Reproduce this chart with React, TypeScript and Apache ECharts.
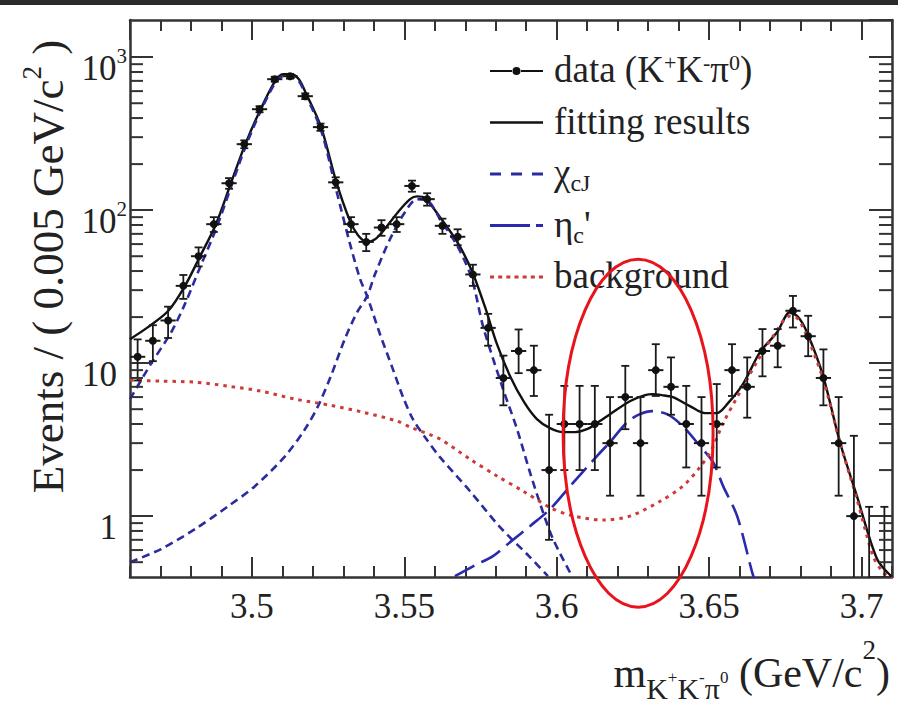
import React, { useEffect, useRef } from 'react';
import * as echarts from 'echarts';

const X_MIN = 3.46;
const X_MAX = 3.71;
const Y_MIN = 0.4;
const Y_MAX = 1750;
const HALF_BIN = 0.0025;
const FONT = 'Liberation Serif';

// ---- data points (bin centres, counts, error bounds) ----
const binCenters = [
  3.4625, 3.4675, 3.4725, 3.4775, 3.4825, 3.4875, 3.4925, 3.4975, 3.5025, 3.5075,
  3.5125, 3.5175, 3.5225, 3.5275, 3.5325, 3.5375, 3.5425, 3.5475, 3.5525, 3.5575,
  3.5625, 3.5675, 3.5725, 3.5775, 3.5825, 3.5875, 3.5925, 3.5975, 3.6025, 3.6075,
  3.6125, 3.6175, 3.6225, 3.6275, 3.6325, 3.6375, 3.6425, 3.6475, 3.6525, 3.6575,
  3.6625, 3.6675, 3.6725, 3.6775, 3.6825, 3.6875, 3.6925, 3.6975, 3.7025, 3.7075,
];
const counts = [
  11, 14, 19, 32, 50, 81, 150, 270, 457, 718,
  751, 556, 349, 152, 81, 62, 77, 81, 144, 118,
  79, 67, 38, 17, 8, 12, 9, 2, 4, 4,
  4, 3, 6, 3, 9, 7, 4, 3, 4, 9,
  7, 12, 13, 22, 15, 8, 3, 1, 0, 0,
];
const errLow = [
  7.7, 10.3, 14.6, 26.3, 42.9, 72, 138, 254, 436, 691,
  724, 532, 330, 140, 72, 54, 68, 72, 132, 107,
  70, 59, 32, 13, 5.3, 8.6, 6.1, 0.7, 2.0, 2.0,
  2.0, 1.36, 3.7, 1.36, 6.1, 4.6, 2.08, 1.36, 2.08, 6.1,
  4.4, 8.2, 9.4, 17.1, 11.1, 5.3, 1.36, 0.17, 0, 0,
];
const errHigh = [
  14.3, 17.7, 23.4, 37.7, 57.1, 90, 162, 286, 478, 745,
  778, 580, 368, 164, 90, 70, 86, 90, 156, 129,
  88, 75, 44, 21, 11.2, 16.6, 13, 4.6, 7.1, 7.1,
  7.1, 6.0, 9.6, 6.0, 13.3, 10.9, 7.1, 6.0, 7.3, 13.3,
  10.9, 16.7, 16.7, 27.5, 20.4, 12.3, 6.0, 3.35, 1.15, 1.15,
];

// ---- fit curves ----
const fitX = [
  3.46, 3.4659, 3.4725, 3.478, 3.483, 3.4882, 3.4931, 3.4977, 3.5027, 3.5076,
  3.5102, 3.5128, 3.5154, 3.5177, 3.5227, 3.5276, 3.5322, 3.5348, 3.5378, 3.5404,
  3.543, 3.5479, 3.5519, 3.5542, 3.5568, 3.5617, 3.5676, 3.5722, 3.5765, 3.5804,
  3.5847, 3.5893, 3.5935, 3.5978, 3.6021, 3.606, 3.6099, 3.6142, 3.6175, 3.624,
  3.629, 3.6316, 3.6345, 3.6381, 3.6437, 3.6486, 3.6525, 3.6562, 3.6611, 3.6667,
  3.6723, 3.6765, 3.6792, 3.6821, 3.6874, 3.6929, 3.6985, 3.7051, 3.71,
];
const fitY = [
  14.35, 17.2, 21.9, 31.9, 50.0, 81.0, 150, 266, 450, 697,
  774, 774, 718, 582, 349, 155, 84.8, 68.6, 61.8, 64.6,
  72.9, 97.0, 118, 123, 120, 90.0, 60.8, 39.9, 23.2, 13.3,
  8.22, 5.56, 4.31, 3.76, 3.54, 3.54, 3.7, 4.18, 4.64, 5.64,
  6.18, 6.27, 6.18, 5.99, 5.24, 4.71, 4.71, 5.48, 7.29, 11.8,
  15.9, 21.5, 20.0, 15.9, 8.22, 3.05, 1.35, 0.524, 0.4,
];
const chic1X = [
  3.46, 3.4666, 3.4735, 3.478, 3.483, 3.4882, 3.4931, 3.4977, 3.5027, 3.5076,
  3.5102, 3.5128, 3.5154, 3.5177, 3.5227, 3.5276, 3.5322, 3.5355, 3.5378, 3.542,
  3.546, 3.5496, 3.5528, 3.5568, 3.5617, 3.5715, 3.5814, 3.5912, 3.5971,
];
const chic1Y = [
  5.82, 9.7, 15.9, 24.3, 42.4, 75.1, 141, 254, 437, 676,
  751, 751, 697, 564, 333, 137, 60, 35.4, 27.4, 15.5,
  9.42, 5.99, 4.31, 3.28, 2.43, 1.46, 0.847, 0.54, 0.405,
];
const chic2X = [
  3.46, 3.4702, 3.4813, 3.4922, 3.501, 3.5109, 3.5174, 3.5217, 3.5259, 3.5305,
  3.5345, 3.5378, 3.5404, 3.5453, 3.5502, 3.5542, 3.5578, 3.5617, 3.5676, 3.5722,
  3.5758, 3.5824, 3.587, 3.5912, 3.5955, 3.5988, 3.605,
];
const chic2Y = [
  0.5, 0.609, 0.822, 1.16, 1.57, 2.47, 3.7, 5.24, 8.22, 14.4,
  21.5, 27.4, 38.2, 64.6, 97.0, 118, 115, 87.4, 57.3, 35.4,
  17.5, 6.76, 3.7, 1.94, 1.06, 0.707, 0.405,
];
const etaX = [
  3.5666, 3.5732, 3.5791, 3.5847, 3.5912, 3.5978, 3.6044, 3.6132, 3.6175, 3.6231,
  3.6273, 3.6313, 3.6362, 3.6414, 3.647, 3.6513, 3.6546, 3.6592, 3.6641, 3.665,
];
const etaY = [
  0.405, 0.478, 0.548, 0.676, 0.86, 1.11, 1.57, 2.47, 3.05, 4.11,
  4.64, 4.86, 4.64, 3.87, 2.87, 2.25, 1.57, 1.0, 0.431, 0.38,
];
const bgX = [
  3.46, 3.4702, 3.4813, 3.4922, 3.503, 3.5141, 3.5256, 3.5364, 3.5476, 3.5519,
  3.5617, 3.5715, 3.5804, 3.5889, 3.5978, 3.6044, 3.6152, 3.624, 3.6339, 3.6414,
  3.647, 3.6509, 3.6546, 3.6601, 3.6657, 3.671, 3.6765, 3.6792, 3.6821, 3.6874,
  3.6929, 3.6985, 3.7038, 3.707, 3.71,
];
const bgY = [
  7.74, 7.63, 7.51, 7.07, 6.56, 5.82, 5.31, 4.78, 4.18, 3.82,
  3.19, 2.36, 1.83, 1.46, 1.14, 1.015, 0.942, 1.0, 1.25, 1.57,
  2.09, 2.74, 4.05, 6.46, 10.2, 15.0, 20.3, 19.4, 15.0, 7.86,
  3.05, 1.29, 0.548, 0.431, 0.39,
];

// ---- axes ----
const xTickLabels = [3.5, 3.55, 3.6, 3.65, 3.7];
const yTickValues = [1, 10, 100, 1000];
const yTickBase = ['1', '10', '10', '10'];
const yTickExp = ['', '', '2', '3'];
const yMinorTicks = [
  0.5, 0.6, 0.7, 0.8, 0.9, 2, 3, 4, 5, 6, 7, 8, 9,
  20, 30, 40, 50, 60, 70, 80, 90, 200, 300, 400, 500, 600, 700, 800, 900,
];
// annotation ellipse: [x left, y bottom, x right, y top]
const ellipseBox = [3.6021, 0.254, 3.6513, 47.8];

const BLUE = '#2b2ba0';
const BLUE2 = '#2a2aac';
const RED = '#cc3a3a';
const AXIS = '#333333';
const TEXT = '#222222';

const zip = (xs: number[], ys: number[]) => xs.map((x, i) => [x, ys[i]]);

const legendLabels: Record<string, string> = {
  data: '{b|data (K}{u|+}{b|K}{u|-}{b|π}{u|0}{b|)}',
  'fitting results': '{b|fitting results}',
  'χcJ': '{b|χ}{d|cJ}',
  "ηc'": "{b|η}{d|c}{b|'}",
  background: '{b|background}',
};

function App() {
  const ref = useRef<HTMLDivElement | null>(null);

  useEffect(() => {
    if (!ref.current) return;
    const chart = echarts.init(ref.current, null, { renderer: 'svg' });

    const renderData = (params: any, api: any) => {
      const x = api.value(0) as number;
      const y = api.value(1) as number;
      const lo = api.value(2) as number;
      const hi = api.value(3) as number;
      const st = { stroke: '#1a1a1a', lineWidth: 1.8 };
      const children: any[] = [];
      const pTop = api.coord([x, Math.min(hi, Y_MAX)]);
      const pBot = api.coord([x, Math.max(lo, Y_MIN)]);
      children.push({ type: 'line', shape: { x1: pTop[0], y1: pTop[1], x2: pBot[0], y2: pBot[1] }, style: st });
      children.push({ type: 'line', shape: { x1: pTop[0] - 4, y1: pTop[1], x2: pTop[0] + 4, y2: pTop[1] }, style: st });
      if (lo > Y_MIN) {
        children.push({ type: 'line', shape: { x1: pBot[0] - 4, y1: pBot[1], x2: pBot[0] + 4, y2: pBot[1] }, style: st });
      }
      if (y > 0) {
        const pL = api.coord([x - HALF_BIN, y]);
        const pR = api.coord([x + HALF_BIN, y]);
        const pC = api.coord([x, y]);
        children.push({ type: 'line', shape: { x1: pL[0], y1: pL[1], x2: pR[0], y2: pR[1] }, style: { stroke: '#1a1a1a', lineWidth: 2 } });
        children.push({ type: 'circle', shape: { cx: pC[0], cy: pC[1], r: 4 }, style: { fill: '#111' } });
      }
      return { type: 'group', children };
    };

    const renderMinor = (params: any, api: any) => {
      const v = api.value(1) as number;
      const pL = api.coord([X_MIN, v]);
      const pR = api.coord([X_MAX, v]);
      const st = { stroke: AXIS, lineWidth: 2 };
      return {
        type: 'group',
        children: [
          { type: 'line', shape: { x1: pL[0], y1: pL[1], x2: pL[0] + 13, y2: pL[1] }, style: st },
          { type: 'line', shape: { x1: pR[0] - 13, y1: pR[1], x2: pR[0], y2: pR[1] }, style: st },
        ],
      };
    };

    const renderEllipse = (params: any, api: any) => {
      const p1 = api.coord([api.value(0), api.value(3)]);
      const p2 = api.coord([api.value(2), api.value(1)]);
      return {
        type: 'ellipse',
        shape: { cx: (p1[0] + p2[0]) / 2, cy: (p1[1] + p2[1]) / 2, rx: (p2[0] - p1[0]) / 2, ry: (p2[1] - p1[1]) / 2 },
        style: { fill: 'none', stroke: '#e8141b', lineWidth: 3 },
      };
    };

    const xMajor = (pos: 'top' | 'bottom', labels: boolean) => ({
      type: 'value',
      position: pos,
      min: X_MIN,
      max: X_MAX,
      splitNumber: 5,
      axisLine: { show: true, onZero: false, lineStyle: { color: AXIS, width: 2.5 } },
      axisTick: { show: true, inside: true, length: 20, lineStyle: { color: AXIS, width: 2 } },
      splitLine: { show: false },
      axisLabel: {
        show: labels,
        margin: 12,
        showMinLabel: false,
        showMaxLabel: false,
        fontFamily: FONT,
        fontSize: 35,
        color: TEXT,
        formatter: (v: number) => {
          const r = Math.round(v * 100) / 100;
          return xTickLabels.indexOf(r) >= 0 ? String(r) : '';
        },
      },
    });
    const xMinor = (pos: 'top' | 'bottom') => ({
      type: 'value',
      position: pos,
      min: X_MIN,
      max: X_MAX,
      interval: 0.01,
      axisLine: { show: false, onZero: false },
      axisTick: { show: true, inside: true, length: 11, lineStyle: { color: AXIS, width: 2 } },
      splitLine: { show: false },
      axisLabel: { show: false },
    });

    const yLabelRich = {
      b: { fontFamily: FONT, fontSize: 35, lineHeight: 34, verticalAlign: 'top', padding: [6, 0, 0, 0], color: TEXT },
      s: { fontFamily: FONT, fontSize: 21, lineHeight: 20, verticalAlign: 'top', color: TEXT },
      sp: { width: 10, fontSize: 20, lineHeight: 20, verticalAlign: 'top' },
    };

    const legendData = [
      { name: 'data', icon: 'path://M0,7H22V9H0Z M31,7H53V9H31Z M22.5,8A4,4,0,1,1,30.5,8A4,4,0,1,1,22.5,8Z', itemStyle: { color: '#111', borderWidth: 0 } },
      { name: 'fitting results', icon: 'path://M0,0H53V2.6H0Z', itemStyle: { color: '#111', borderWidth: 0 } },
      { name: 'χcJ', icon: 'path://M0,0H11V3H0Z M21,0H32V3H21Z M42,0H53V3H42Z', itemStyle: { color: BLUE, borderWidth: 0 } },
      { name: "ηc'", icon: 'path://M0,0H40V3H0Z M46,0H53V3H46Z', itemStyle: { color: BLUE2, borderWidth: 0 } },
      { name: 'background', icon: 'path://M0,0H4V3H0Z M8,0H12V3H8Z M16,0H20V3H16Z M24,0H28V3H24Z M32,0H36V3H32Z M40,0H44V3H40Z M48,0H52V3H48Z', itemStyle: { color: RED, borderWidth: 0 } },
    ];

    const lineBase = { type: 'line', smooth: 0.3, symbol: 'none', showSymbol: false, silent: true, xAxisIndex: 0, yAxisIndex: 0 };

    const option: any = {
      animation: false,
      backgroundColor: '#ffffff',
      textStyle: { fontFamily: FONT },
      grid: { left: 130, top: 20, width: 762, height: 557, show: false },
      legend: {
        orient: 'vertical',
        left: 485,
        top: 46,
        itemWidth: 53,
        itemHeight: 16,
        itemGap: 9.5,
        symbolKeepAspect: true,
        selectedMode: false,
        data: legendData,
        formatter: (name: string) => legendLabels[name] || name,
        textStyle: {
          fontFamily: FONT,
          fontSize: 37,
          color: TEXT,
          padding: [0, 0, 0, 6],
          rich: {
            b: { fontFamily: FONT, fontSize: 37, lineHeight: 40, verticalAlign: 'top', padding: [0, 0, 5, 0], color: TEXT },
            u: { fontFamily: FONT, fontSize: 22, lineHeight: 22, verticalAlign: 'top', color: TEXT },
            d: { fontFamily: FONT, fontSize: 24, lineHeight: 24, verticalAlign: 'top', padding: [17, 0, 0, 0], color: TEXT },
          },
        },
      },
      xAxis: [xMajor('bottom', true), xMinor('bottom'), xMajor('top', false), xMinor('top')],
      yAxis: [
        {
          type: 'log',
          logBase: 10,
          position: 'left',
          min: Y_MIN,
          max: Y_MAX,
          axisLine: { show: true, onZero: false, lineStyle: { color: AXIS, width: 2.5 } },
          axisTick: { show: true, inside: true, length: 23, lineStyle: { color: AXIS, width: 2 } },
          splitLine: { show: false },
          axisLabel: {
            margin: 3,
            padding: [10, 0, 0, 0],
            showMinLabel: false,
            showMaxLabel: false,
            fontFamily: FONT,
            formatter: (v: number) => {
              const idx = yTickValues.findIndex((t) => Math.abs(Math.log10(v) - Math.log10(t)) < 1e-6);
              if (idx < 0) return '';
              return yTickExp[idx] ? `{b|${yTickBase[idx]}}{s|${yTickExp[idx]}}` : `{b|${yTickBase[idx]}}{sp| }`;
            },
            rich: yLabelRich,
          },
          name: '{t|Events / ( 0.005 GeV/c}{s|2}{t| )}',
          nameLocation: 'middle',
          nameRotate: 90,
          nameGap: 63,
          nameTextStyle: {
            fontFamily: FONT,
            fontSize: 45,
            color: TEXT,
            padding: [0, 0, 0, 64],
            rich: {
              t: { fontFamily: FONT, fontSize: 45, lineHeight: 44, verticalAlign: 'top', padding: [7.5, 0, 0, 0], color: TEXT },
              s: { fontFamily: FONT, fontSize: 27, lineHeight: 26, verticalAlign: 'top', color: TEXT },
            },
          },
        },
        {
          type: 'log',
          logBase: 10,
          position: 'right',
          min: Y_MIN,
          max: Y_MAX,
          axisLine: { show: true, onZero: false, lineStyle: { color: AXIS, width: 2.5 } },
          axisTick: { show: true, inside: true, length: 23, lineStyle: { color: AXIS, width: 2 } },
          splitLine: { show: false },
          axisLabel: { show: false },
        },
      ],
      graphic: [
        { type: 'rect', shape: { x: 0, y: 0, width: 898, height: 5 }, style: { fill: '#2b2b2b' }, silent: true },
        {
          type: 'text',
          x: 890,
          y: 628,
          silent: true,
          style: {
            text: '{m|m}{k|K}{ks|+}{k|K}{ks|-}{k|π}{ks|0}{g| (GeV/c}{s|2}{g|)}',
            align: 'right',
            verticalAlign: 'top',
            fontFamily: FONT,
            fill: TEXT,
            rich: {
              m: { fontFamily: FONT, fontSize: 42, lineHeight: 40, verticalAlign: 'top', padding: [23.5, 0, 0, 0], fill: TEXT },
              g: { fontFamily: FONT, fontSize: 42, lineHeight: 40, verticalAlign: 'top', padding: [23.5, 0, 0, 0], fill: TEXT },
              k: { fontFamily: FONT, fontSize: 30, lineHeight: 29, verticalAlign: 'top', padding: [45.7, 0, 0, 0], fill: TEXT },
              ks: { fontFamily: FONT, fontSize: 17, lineHeight: 17, verticalAlign: 'top', padding: [40.5, 0, 0, 0], fill: TEXT },
              s: { fontFamily: FONT, fontSize: 27, lineHeight: 26, verticalAlign: 'top', padding: [8, 0, 0, 0], fill: TEXT },
            },
          },
        },
      ],
      series: [
        { ...lineBase, name: 'fitting results', data: zip(fitX, fitY), lineStyle: { color: '#111', width: 2.4 }, itemStyle: { color: '#111' }, z: 2 },
        { ...lineBase, name: 'χcJ', data: zip(chic1X, chic1Y), lineStyle: { color: BLUE, width: 2.6, type: [8, 5] }, itemStyle: { color: BLUE }, z: 3 },
        { ...lineBase, name: 'χcJ', data: zip(chic2X, chic2Y), lineStyle: { color: BLUE, width: 2.6, type: [8, 5] }, itemStyle: { color: BLUE }, z: 3 },
        { ...lineBase, name: "ηc'", data: zip(etaX, etaY), lineStyle: { color: BLUE2, width: 2.6, type: [22, 8] }, itemStyle: { color: BLUE2 }, z: 3 },
        { ...lineBase, name: 'background', data: zip(bgX, bgY), lineStyle: { color: RED, width: 3, type: [3.5, 5] }, itemStyle: { color: RED }, z: 4 },
        {
          type: 'custom',
          name: 'data',
          xAxisIndex: 0,
          yAxisIndex: 0,
          silent: true,
          itemStyle: { color: '#111' },
          data: binCenters.map((x, i) => [x, counts[i], errLow[i], errHigh[i]]),
          encode: { x: 0, y: 1 },
          renderItem: renderData,
          z: 5,
        },
        {
          type: 'custom',
          name: 'minorTicks',
          xAxisIndex: 0,
          yAxisIndex: 0,
          silent: true,
          data: yMinorTicks.map((v) => [X_MIN, v]),
          encode: { x: 0, y: 1 },
          renderItem: renderMinor,
          z: 6,
        },
        {
          type: 'custom',
          name: 'annotation',
          xAxisIndex: 0,
          yAxisIndex: 0,
          silent: true,
          clip: false,
          data: [ellipseBox],
          encode: { x: 0, y: 1 },
          renderItem: renderEllipse,
          z: 7,
        },
      ],
    };

    chart.setOption(option);
    return () => {
      chart.dispose();
    };
  }, []);

  return (
    <div
      ref={ref}
      style={{ position: 'fixed', left: 0, top: 0, width: 898, height: 704, background: '#ffffff' }}
    />
  );
}

export default App;
